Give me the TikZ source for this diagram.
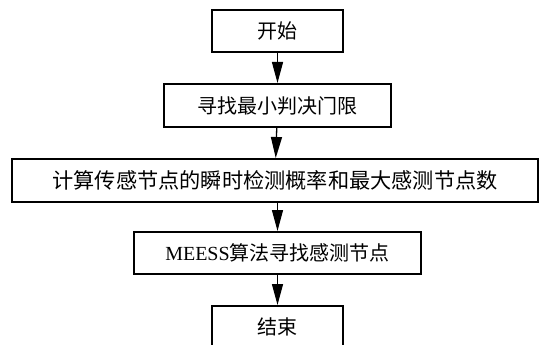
\documentclass[tikz,border=0pt]{standalone}
\usepackage{fontspec}
\setmainfont{Liberation Serif}
\newfontfamily\cjk{Noto Sans CJK SC}
\usetikzlibrary{arrows.meta}
\begin{document}
\begin{tikzpicture}[x=1pt,y=-1pt,
  flowbox/.style={draw=black, line width=2pt, inner sep=0pt, minimum height=42pt,
    font=\fontsize{20}{24}\selectfont\cjk},
  flowarrow/.style={line width=1.3pt, -{Triangle[length=21pt,width=11pt]}}]
\useasboundingbox (0,0) rectangle (543,345);
\fill[white] (0,0) rectangle (543,345);
\node[flowbox, minimum width=131pt] (b1) at (277.5,31) {开始};
\node[flowbox, minimum width=227pt, minimum height=43pt] (b2) at (277.5,105.5) {寻找最小判决门限};
\node[flowbox, minimum width=526pt, minimum height=43pt, font=\fontsize{21.2}{25}\selectfont\cjk] (b3) at (275,180.5) {计算传感节点的瞬时检测概率和最大感测节点数};
\node[flowbox, minimum width=287pt] (b4) at (277.5,253) {{\rmfamily MEESS}算法寻找感测节点};
\node[flowbox, minimum width=131pt] (b5) at (277.5,327) {结束};
\draw[flowarrow] (b1) -- (b2);
\draw[flowarrow] (b2) -- (b3);
\draw[flowarrow] (b3.south -| b4) -- (b4);
\draw[flowarrow] (b4) -- (b5);
\end{tikzpicture}
\end{document}
